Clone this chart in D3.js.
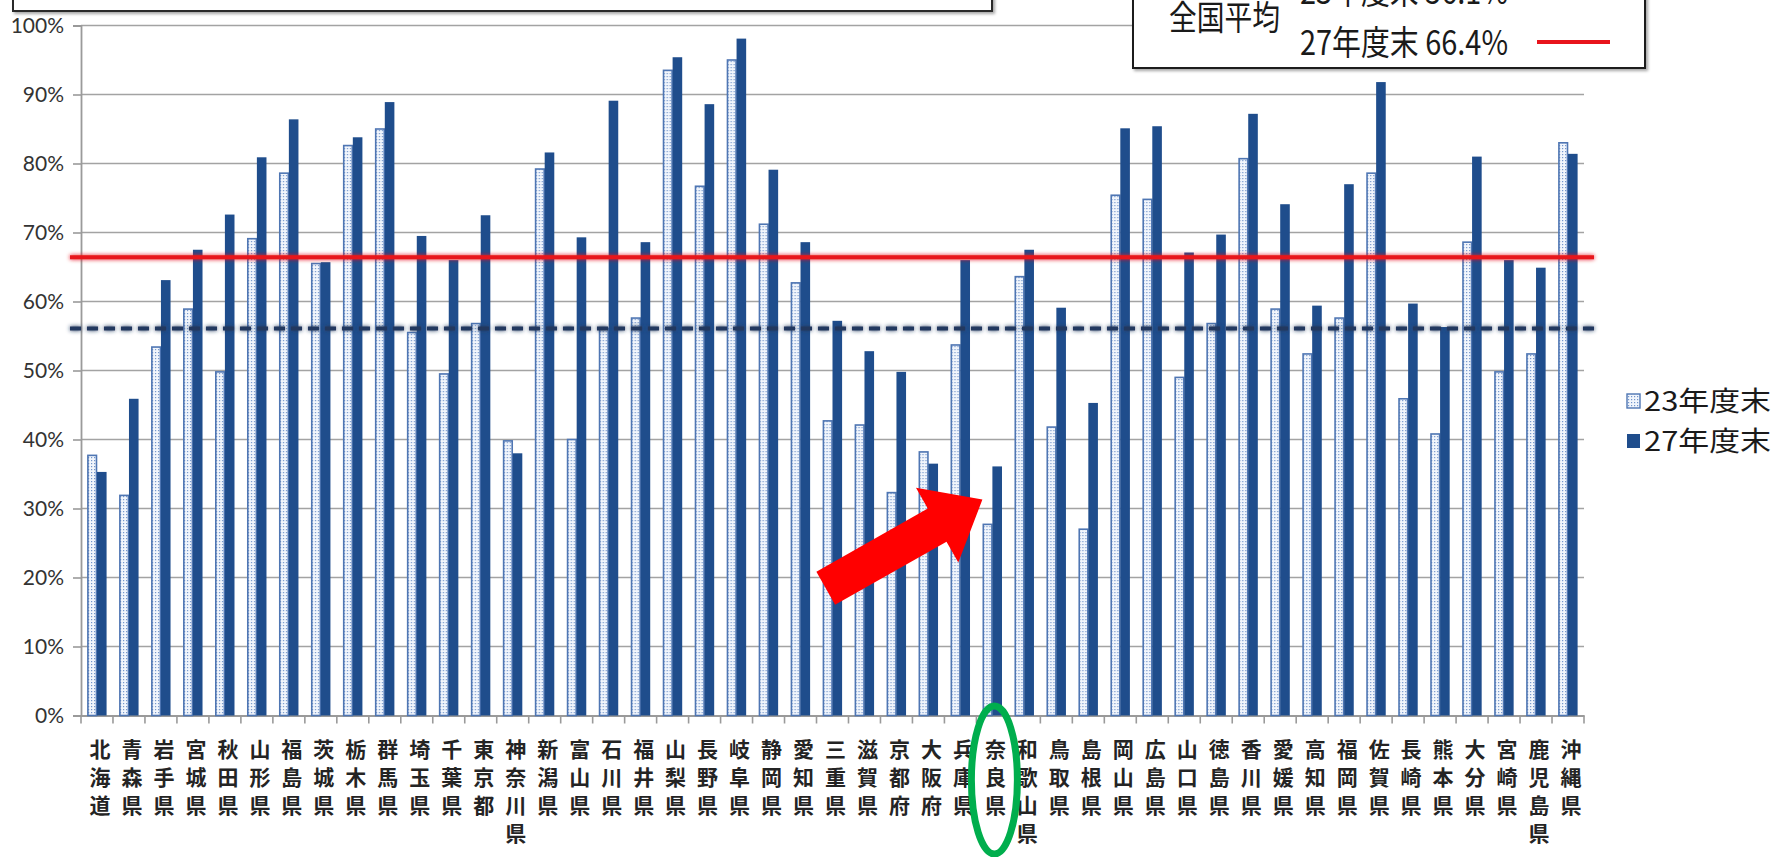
<!DOCTYPE html>
<html lang="ja">
<head>
<meta charset="utf-8">
<script src="https://cdn.jsdelivr.net/npm/d3@7/dist/d3.min.js"></script>
<style>
  html, body { margin: 0; padding: 0; background: #ffffff; }
  svg { display: block; }
  .ytick { font-family: Lato, "Open Sans", sans-serif; font-size: 21px; fill: #333333; }
  .xlab { font-family: "Noto Sans CJK JP", sans-serif; font-size: 21px; font-weight: 700; fill: #242424; }
  .jp { font-family: "Noto Sans CJK JP", sans-serif; fill: #1a1a1a; }
</style>
</head>
<body>
<div id="chart"></div>
<script>
// Prefectures (x categories)
const prefectures = ["北海道","青森県","岩手県","宮城県","秋田県","山形県","福島県","茨城県","栃木県","群馬県",
  "埼玉県","千葉県","東京都","神奈川県","新潟県","富山県","石川県","福井県","山梨県","長野県",
  "岐阜県","静岡県","愛知県","三重県","滋賀県","京都府","大阪府","兵庫県","奈良県","和歌山県",
  "鳥取県","島根県","岡山県","広島県","山口県","徳島県","香川県","愛媛県","高知県","福岡県",
  "佐賀県","長崎県","熊本県","大分県","宮崎県","鹿児島県","沖縄県"];

// Series values (%)
const values23 = [37.7,31.9,53.4,58.9,49.8,69.1,78.6,65.5,82.6,85.0,
  55.5,49.5,56.8,39.8,79.2,40.0,56.1,57.6,93.5,76.7,
  95.0,71.2,62.7,42.7,42.1,32.3,38.2,53.7,27.7,63.6,
  41.8,27.0,75.4,74.8,49.0,56.8,80.7,58.9,52.4,57.6,
  78.6,45.9,40.8,68.6,49.8,52.4,83.0];
const values27 = [35.3,45.9,63.1,67.5,72.6,80.9,86.4,65.7,83.8,88.9,
  69.5,66.0,72.5,38.0,81.6,69.3,89.1,68.6,95.4,88.6,
  98.1,79.1,68.6,57.2,52.8,49.8,36.5,66.0,36.1,67.5,
  59.1,45.3,85.1,85.4,67.1,69.7,87.2,74.1,59.4,77.0,
  91.8,59.7,56.3,81.0,66.0,64.9,81.4];

// Series names and national averages
const seriesNames = ["23年度末", "27年度末"];
const nationalAvg = [56.1, 66.4];

// Y axis ticks
const yTicks = [0,10,20,30,40,50,60,70,80,90,100];

// Highlighted prefecture
const highlight = "奈良県";

const W = 1772, H = 857;
const svg = d3.select("#chart").append("svg").attr("width", W).attr("height", H);
const defs = svg.append("defs");

// dotted fill for the 23年度末 bars
const pat = defs.append("pattern").attr("id", "dots").attr("patternUnits", "userSpaceOnUse")
  .attr("width", 3).attr("height", 3);
pat.append("rect").attr("width", 3).attr("height", 3).attr("fill", "#f2f6fc");
pat.append("rect").attr("x", 1).attr("y", 1).attr("width", 1.2).attr("height", 1.2).attr("fill", "#7295cb");

const shadow = defs.append("filter").attr("id", "shadow").attr("filterUnits", "userSpaceOnUse")
  .attr("x", 0).attr("y", -60).attr("width", W).attr("height", 160);
shadow.append("feDropShadow").attr("dx", 2).attr("dy", 2).attr("stdDeviation", 1.5).attr("flood-color", "#000").attr("flood-opacity", 0.35);

// soft halo around the average lines
const glow = defs.append("filter").attr("id", "glow").attr("filterUnits", "userSpaceOnUse")
  .attr("x", 0).attr("y", 0).attr("width", W).attr("height", H);
glow.append("feGaussianBlur").attr("in", "SourceGraphic").attr("stdDeviation", 2.2).attr("result", "b");
const gm = glow.append("feMerge");
gm.append("feMergeNode").attr("in", "b");
gm.append("feMergeNode").attr("in", "SourceGraphic");

const plot = { left: 81, right: 1584, top: 25.5, bottom: 715.5 };

const x = d3.scaleBand().domain(prefectures).range([plot.left, plot.right]).paddingInner(0).paddingOuter(0);
const xs = d3.scaleBand().domain(seriesNames).range([x.bandwidth() * 0.2, x.bandwidth() * 0.8]).padding(0);
const y = d3.scaleLinear().domain([0, 100]).range([plot.bottom, plot.top]);

// gridlines
svg.append("g").selectAll("line").data(yTicks.filter(d => d > 0)).join("line")
  .attr("x1", plot.left).attr("x2", plot.right)
  .attr("y1", d => y(d)).attr("y2", d => y(d))
  .attr("stroke", "#a3a3a3").attr("stroke-width", 1.6);

// y axis
const yAxis = d3.axisLeft(y).tickValues(yTicks).tickFormat(d => d + "%").tickSize(8).tickPadding(9);
const gy = svg.append("g").attr("transform", `translate(${plot.left},0)`).call(yAxis);
gy.select(".domain").attr("stroke", "#9a9a9a").attr("stroke-width", 1.8);
gy.selectAll(".tick line").attr("stroke", "#9a9a9a").attr("stroke-width", 1.6);
gy.selectAll(".tick text").attr("class", "ytick").attr("fill", null);

// x axis baseline and category ticks
const xAxis = d3.axisBottom(x).tickSize(0).tickFormat("");
const gx = svg.append("g").attr("transform", `translate(0,${plot.bottom})`).call(xAxis);
gx.select(".domain").attr("stroke", "#9a9a9a").attr("stroke-width", 1.8);
gx.selectAll(".tick").remove();
const boundaries = prefectures.map(p => x(p)).concat([x(prefectures[prefectures.length - 1]) + x.bandwidth()]);
gx.selectAll("line.bt").data(boundaries).join("line").attr("class", "bt")
  .attr("x1", d => d).attr("x2", d => d).attr("y1", 0).attr("y2", 8)
  .attr("stroke", "#9a9a9a").attr("stroke-width", 1.6);

// bars
const rows = prefectures.map((p, i) => ({ p, v: [values23[i], values27[i]] }));
const groups = svg.append("g").selectAll("g").data(rows).join("g")
  .attr("transform", d => `translate(${x(d.p)},0)`);
groups.append("rect")
  .attr("x", xs(seriesNames[0]) + 0.5).attr("width", xs.bandwidth() - 1)
  .attr("y", d => y(d.v[0])).attr("height", d => y(0) - y(d.v[0]))
  .attr("fill", "url(#dots)").attr("stroke", "#4f76b3").attr("stroke-width", 1.6);
groups.append("rect")
  .attr("x", xs(seriesNames[1])).attr("width", xs.bandwidth())
  .attr("y", d => y(d.v[1])).attr("height", d => y(0) - y(d.v[1]))
  .attr("fill", "#1f4d8c");

// national average lines
const avgX0 = 70, avgX1 = 1594;
svg.append("line").attr("x1", avgX0).attr("x2", avgX1)
  .attr("y1", y(nationalAvg[0])).attr("y2", y(nationalAvg[0]))
  .attr("stroke", "#22395e").attr("stroke-width", 4).attr("stroke-dasharray", "11 6")
  .attr("filter", "url(#glow)");
svg.append("line").attr("x1", avgX0).attr("x2", avgX1)
  .attr("y1", y(nationalAvg[1])).attr("y2", y(nationalAvg[1]))
  .attr("stroke", "#e8141c").attr("stroke-width", 4)
  .attr("filter", "url(#glow)");

// x labels, one character per line
const lab = svg.append("g").selectAll("text").data(prefectures).join("text")
  .attr("class", "xlab").attr("text-anchor", "middle")
  .attr("x", d => x(d) + x.bandwidth() / 2 + 3).attr("y", 757);
lab.selectAll("tspan").data(d => Array.from(d).map((c, i) => ({ c, i, p: d }))).join("tspan")
  .attr("x", d => x(d.p) + x.bandwidth() / 2 + 3)
  .attr("dy", d => d.i === 0 ? 0 : 28)
  .text(d => d.c);

// top-left frame
svg.append("rect").attr("x", 13).attr("y", -40).attr("width", 979).attr("height", 51)
  .attr("fill", "#fff").attr("stroke", "#2a2a2a").attr("stroke-width", 2).attr("filter", "url(#shadow)");

// national average box
const lg = svg.append("g");
lg.append("rect").attr("x", 1133).attr("y", -40).attr("width", 512).attr("height", 108)
  .attr("fill", "#fff").attr("stroke", "#1a1a1a").attr("stroke-width", 2).attr("filter", "url(#shadow)");
lg.append("text").attr("class", "jp").attr("x", 1169).attr("y", 30).attr("font-size", 34)
  .attr("textLength", 111).attr("lengthAdjust", "spacingAndGlyphs").text("全国平均");
const rowY = [-9, 42];
lg.selectAll("text.row").data(seriesNames).join("text").attr("class", "jp row")
  .attr("x", 1300).attr("y", (d, i) => rowY[i] + 13).attr("font-size", 34)
  .attr("textLength", 208).attr("lengthAdjust", "spacingAndGlyphs")
  .text((d, i) => `${d} ${nationalAvg[i].toFixed(1)}%`);
lg.append("line").attr("x1", 1537).attr("x2", 1610).attr("y1", rowY[0]).attr("y2", rowY[0])
  .attr("stroke", "#22395e").attr("stroke-width", 4).attr("stroke-dasharray", "11 6");
lg.append("line").attr("x1", 1537).attr("x2", 1610).attr("y1", rowY[1]).attr("y2", rowY[1])
  .attr("stroke", "#e8141c").attr("stroke-width", 4);

// series legend
const sl = svg.append("g").selectAll("g").data(seriesNames).join("g")
  .attr("transform", (d, i) => `translate(1627,${401 + i * 40})`);
sl.append("rect").attr("x", 0).attr("y", -7).attr("width", 13).attr("height", 14)
  .attr("fill", (d, i) => i === 0 ? "url(#dots)" : "#1f4d8c")
  .attr("stroke", (d, i) => i === 0 ? "#4f76b3" : "none").attr("stroke-width", 1.4);
sl.append("text").attr("class", "jp").attr("x", 17).attr("y", 10).attr("font-size", 27)
  .attr("textLength", 127).attr("lengthAdjust", "spacingAndGlyphs").text(d => d);

// red arrow pointing at the highlighted prefecture
const tip = [x(highlight) + 6, y(31.3)];
const ang = -29.5 * Math.PI / 180;
const L = 180, headL = 52, bodyW = 38, headW = 86;
const local = [[0, -bodyW / 2], [L - headL, -bodyW / 2], [L - headL, -headW / 2], [L, 0],
  [L - headL, headW / 2], [L - headL, bodyW / 2], [0, bodyW / 2]];
const base = [tip[0] - L * Math.cos(ang), tip[1] - L * Math.sin(ang)];
const pts = local.map(([u, v]) => [base[0] + u * Math.cos(ang) - v * Math.sin(ang), base[1] + u * Math.sin(ang) + v * Math.cos(ang)]);
svg.append("polygon").attr("points", pts.map(p => p.join(",")).join(" ")).attr("fill", "#ff0000");

// green ring around the highlighted label
svg.append("ellipse").attr("cx", x(highlight) + x.bandwidth() / 2 + 2).attr("cy", 780)
  .attr("rx", 23).attr("ry", 74).attr("fill", "none").attr("stroke", "#00ae4d").attr("stroke-width", 7);
</script>
</body>
</html>
